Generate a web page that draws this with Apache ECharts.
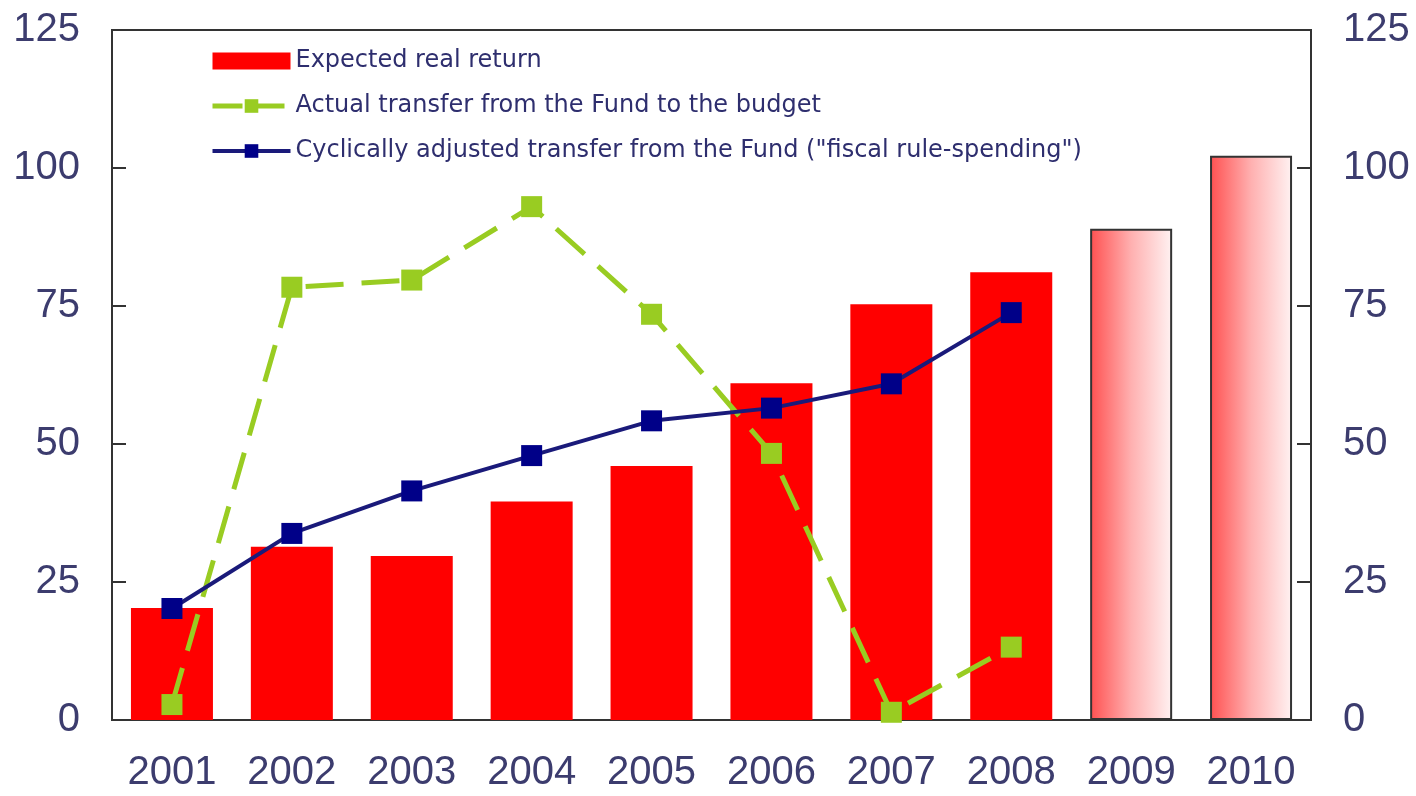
<!DOCTYPE html>
<html>
<head>
<meta charset="utf-8">
<script src="https://cdn.jsdelivr.net/npm/echarts@6/dist/echarts.min.js"></script>
<style>
  html, body { margin: 0; padding: 0; background: #fff; }
  #chart { width: 1416px; height: 796px; }
</style>
</head>
<body>
<div id="chart"></div>
<script>
const years = ['2001', '2002', '2003', '2004', '2005', '2006', '2007', '2008', '2009', '2010']
const expectedReturn = [20.3, 31.4, 29.7, 39.6, 46.0, 61.0, 75.3, 81.1, 89.0, 102.2]
const actualTransfer = [2.8, 78.4, 79.7, 93.0, 73.5, 48.3, 1.4, 13.2]
const cyclicalTransfer = [20.2, 33.8, 41.5, 47.9, 54.2, 56.5, 60.9, 73.8]
const forecastYears = ['2009', '2010']
const yTicks = [0, 25, 50, 75, 100, 125]

const names = [
  'Expected real return',
  'Actual transfer from the Fund to the budget',
  'Cyclically adjusted transfer from the Fund ("fiscal rule-spending")'
]

const chart = echarts.init(document.getElementById('chart'))

const labelColor = '#3c3c6e'
const font = "'Liberation Sans', Arial, sans-serif"
const green = '#99cc22'
const navy = '#1a1a7a'

const forecastStyle = {
  color: new echarts.graphic.LinearGradient(0, 0, 1, 0, [
    { offset: 0, color: '#ff5050' },
    { offset: 0.5, color: '#ffb0b0' },
    { offset: 1, color: '#fff2f2' }
  ]),
  borderColor: '#333',
  borderWidth: 2
}

const barData = expectedReturn.map((v, i) =>
  forecastYears.includes(years[i]) ? { value: v, itemStyle: forecastStyle } : v
)

const yAxisBase = {
  type: 'value',
  min: yTicks[0],
  max: yTicks[yTicks.length - 1],
  interval: 25,
  axisLine: { show: true, lineStyle: { color: '#333', width: 2 } },
  axisTick: { show: true, inside: true, length: 14, lineStyle: { color: '#333', width: 2 } },
  axisLabel: { color: labelColor, fontSize: 40, fontFamily: font, margin: 32 },
  splitLine: { show: false }
}

chart.setOption({
  backgroundColor: '#fff',
  animation: false,
  grid: {
    left: 112,
    right: 105,
    top: 30,
    bottom: 76,
    show: true,
    borderColor: '#333',
    borderWidth: 2,
    containLabel: false
  },
  legend: {
    orient: 'vertical',
    left: 205,
    top: 44,
    itemWidth: 78,
    itemHeight: 17,
    itemGap: 21,
    data: [
      { name: names[0], icon: 'rect' },
      { name: names[1], lineStyle: { width: 5, type: [30, 12] } },
      { name: names[2], lineStyle: { width: 4 } }
    ],
    textStyle: { color: '#2e2e6e', fontSize: 24, fontFamily: "'DejaVu Sans', sans-serif" }
  },
  xAxis: {
    type: 'category',
    data: years,
    boundaryGap: true,
    axisLine: { lineStyle: { color: '#333', width: 2 } },
    axisTick: { inside: true, length: 12, lineStyle: { color: '#333', width: 2 } },
    axisLabel: { color: labelColor, fontSize: 40, fontFamily: font, margin: 33 }
  },
  yAxis: [
    Object.assign({ position: 'left' }, yAxisBase),
    Object.assign({ position: 'right' }, yAxisBase)
  ],
  series: [
    {
      name: names[0],
      type: 'bar',
      data: barData,
      barWidth: 82,
      itemStyle: { color: '#ff0000' },
      z: 1
    },
    {
      name: names[1],
      type: 'line',
      data: actualTransfer,
      symbol: 'rect',
      symbolSize: 21,
      lineStyle: { color: green, width: 5, type: [38, 18] },
      itemStyle: { color: green },
      z: 2
    },
    {
      name: names[2],
      type: 'line',
      data: cyclicalTransfer,
      symbol: 'rect',
      symbolSize: 21,
      lineStyle: { color: navy, width: 4 },
      itemStyle: { color: '#000088' },
      z: 3
    }
  ]
})
</script>
</body>
</html>
